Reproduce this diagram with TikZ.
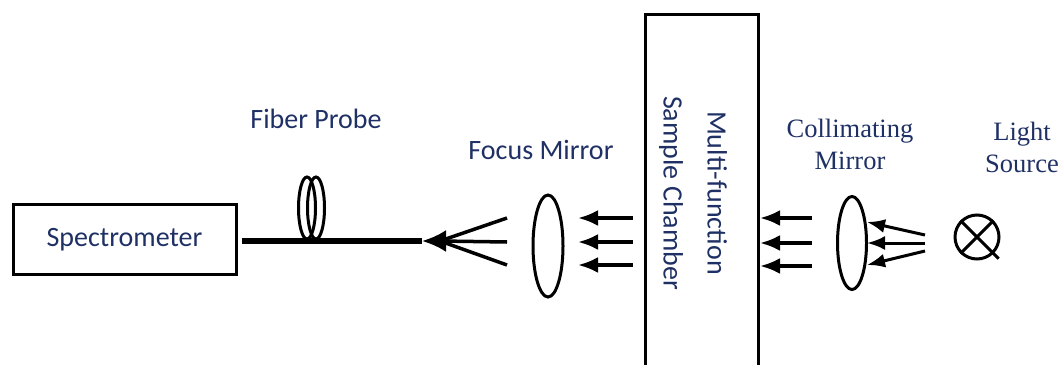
\documentclass[tikz,border=0pt]{standalone}
\usepackage{fontspec}
\usepackage{xcolor}
\newfontfamily\calib{Carlito}
\newfontfamily\timesf{Liberation Serif}
\usetikzlibrary{arrows.meta,shapes.geometric,positioning}
\definecolor{labelblue}{RGB}{31,48,100}

\begin{document}
\begin{tikzpicture}[x=1pt,y=-1pt,
  box/.style={draw,line width=3pt,inner sep=0pt},
  lens/.style={draw,ellipse,line width=3pt,inner sep=0pt},
  ray/.style={line width=3.5pt,-{Latex[length=20pt,width=16pt]}},
  sans/.style={text=labelblue,font=\calib\fontsize{28}{44}\selectfont,align=center},
  serif/.style={text=labelblue,font=\timesf\fontsize{26.5}{32}\selectfont,align=center}]
\useasboundingbox (0,0) rectangle (1062,364);
\clip (0,0) rectangle (1062,364);
% spectrometer and fibre
\node[box,sans,minimum width=223pt,minimum height=70pt] (spec) at (124.5,239.5) {Spectrometer};
\coordinate (fibrestart) at (242,241);
\coordinate (fibretip) at (422,241);
\coordinate (fan) at (440,241);
\draw[line width=6pt] (fibrestart) -- (fibretip);
\node[lens,minimum width=17pt,minimum height=62pt] (coilA) at (307,208) {};
\node[lens,minimum width=17pt,minimum height=62pt] (coilB) at (316,208) {};
\node[sans] (probelabel) at (316,119) {Fiber Probe};
\draw[line width=3.5pt,-{Latex[length=24pt,width=22pt]}] (fan) -- (fibretip);
\draw[line width=3.5pt] (fan) -- (507,218);
\draw[line width=3.5pt] (fan) -- (507,242);
\draw[line width=3.5pt] (fan) -- (507,265);
% focus mirror
\node[lens,minimum width=30pt,minimum height=102pt] (focus) at (548,246) {};
\node[sans] (focuslabel) at (541,150) {Focus Mirror};
\draw[ray] (633,218) -- (578,218);
\draw[ray] (633,242) -- (578,242);
\draw[ray] (633,265) -- (578,265);
% sample chamber
\node[box,minimum width=113pt,minimum height=380pt,anchor=north west] (chamber) at (644,13) {};
\node[sans,rotate=-90] (chamberlabel) at (693,193) {Multi-function\\Sample Chamber};
\draw[ray] (812,218) -- (chamber.east |- 0,218);
\draw[ray] (812,243) -- (chamber.east |- 0,243);
\draw[ray] (812,266) -- (chamber.east |- 0,266);
% collimating mirror and lamp
\node[lens,minimum width=29pt,minimum height=93pt] (collim) at (852,243) {};
\node[serif] (collimlabel) at (850,144) {Collimating\\Mirror};
\draw[line width=3pt,-{Latex[length=18pt,width=14pt]}] (925,235) -- (867,222);
\draw[line width=3pt,-{Latex[length=18pt,width=14pt]}] (925,243) -- (867,243);
\draw[line width=3pt,-{Latex[length=18pt,width=14pt]}] (925,251) -- (867,265);
\node[draw,circle,line width=3pt,minimum size=44pt,inner sep=0pt] (lamp) at (977,237) {};
\draw[line width=3pt] (lamp.45) -- (lamp.225);
\draw[line width=3pt] (lamp.135) -- ([shift={(5,5)}]lamp.-45);
\node[serif] (lamplabel) at (1022,147) {Light\\Source};
\end{tikzpicture}
\end{document}
